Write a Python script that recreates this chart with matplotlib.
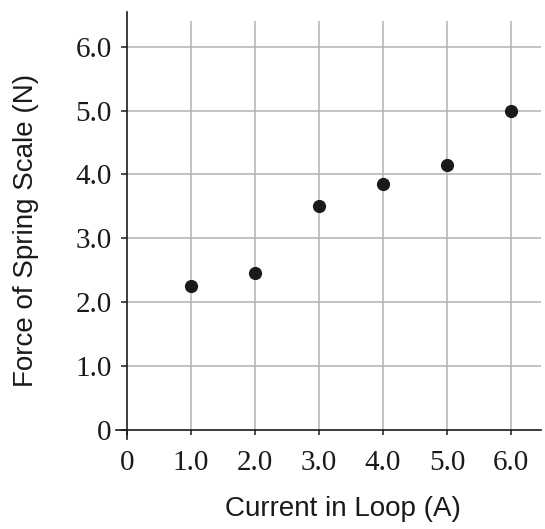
import matplotlib
matplotlib.use("Agg")
import matplotlib.pyplot as plt

# Data
current = [1.0, 2.0, 3.0, 4.0, 5.0, 6.0]
force = [2.25, 2.45, 3.5, 3.85, 4.15, 5.0]

ticks = [0, 1, 2, 3, 4, 5, 6]
tick_labels = ["0", "1.0", "2.0", "3.0", "4.0", "5.0", "6.0"]

ink = "#1a1a1a"
grid_color = "#b3b3b3"

fig = plt.figure(figsize=(5.45, 5.29), dpi=100)
ax = fig.add_axes([0.2128, 0.1701, 0.780, 0.807])

# axes cross a little past the origin
ax.set_xlim(-0.17, 6.47)
ax.set_ylim(-0.14, 6.54)
ax.spines["left"].set_position(("data", 0))
ax.spines["bottom"].set_position(("data", 0))

# grid lines (vertical ones stop a bit short of the top)
ax.vlines(ticks[1:], 0, 6.4, color=grid_color, lw=1.1, zorder=1)
ax.hlines(ticks[1:], 0, 6.47, color=grid_color, lw=1.1, zorder=1)

ax.scatter(current, force, s=72, color=ink, zorder=3)

ax.set_xticks(ticks)
ax.set_xticklabels(tick_labels, family="Liberation Serif", fontsize=21)
ax.set_yticks(ticks)
ax.set_yticklabels(tick_labels, family="Liberation Serif", fontsize=21)
ax.tick_params(axis="x", direction="out", length=3.5, width=1.1, pad=11, colors=ink)
ax.tick_params(axis="y", direction="out", length=4, width=1.1, pad=7, colors=ink)

ax.set_xlabel("Current in Loop (A)", family="Liberation Sans", fontsize=20, color=ink)
ax.set_ylabel("Force of Spring Scale (N)", family="Liberation Sans", fontsize=20, color=ink)
ax.xaxis.set_label_coords(0.534, -0.134)
ax.yaxis.set_label_coords(-0.18, 0.489)

ax.spines["top"].set_visible(False)
ax.spines["right"].set_visible(False)
for s in ("left", "bottom"):
    ax.spines[s].set_color(ink)
    ax.spines[s].set_linewidth(1.2)

fig.savefig("out.png", dpi=100)
